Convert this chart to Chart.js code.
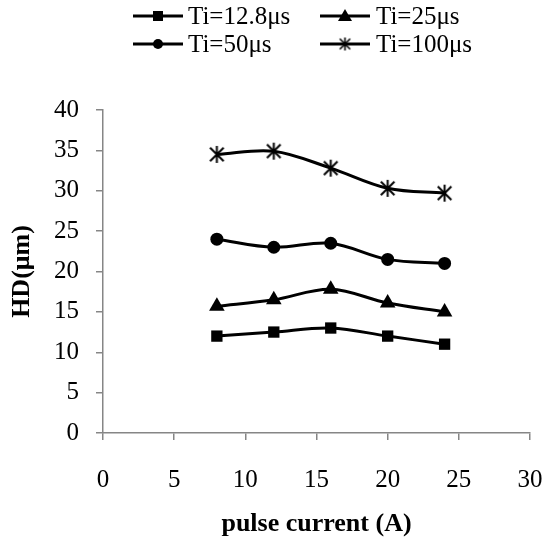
<!DOCTYPE html>
<html>
<head>
<meta charset="utf-8">
<script src="https://cdn.jsdelivr.net/npm/chart.js@4.4.1/dist/chart.umd.min.js"></script>
<style>
  html, body { margin: 0; padding: 0; background: #fff; }
  #wrap { width: 546px; height: 537px; }
</style>
</head>
<body>
<div id="wrap"><canvas id="chart" width="546" height="537"></canvas></div>
<script>
// pulse current (A) vs HD (µm), one series per pulse-on time
const currents = [8, 12, 16, 20, 24];
const seriesNames = ['Ti=12.8μs', 'Ti=25μs', 'Ti=50μs', 'Ti=100μs'];
const hdTi128 = [12.0, 12.5, 13.0, 12.0, 11.0];
const hdTi25 = [15.7, 16.5, 17.8, 16.1, 15.0];
const hdTi50 = [24.0, 23.0, 23.5, 21.5, 21.0];
const hdTi100 = [34.5, 34.9, 32.8, 30.3, 29.7];

const FONT = "'Liberation Serif', 'Times New Roman', serif";
const AXIS_GREY = '#868686';

// asterisk marker (X plus vertical bar) as a small canvas
function makeStar(size, lw) {
    const c = document.createElement('canvas');
    c.width = size;
    c.height = size;
    const g = c.getContext('2d');
    const m = size / 2, r = size / 2 - 1;
    g.strokeStyle = '#000';
    g.lineWidth = lw;
    g.beginPath();
    g.moveTo(m - r * 0.8, m - r * 0.8); g.lineTo(m + r * 0.8, m + r * 0.8);
    g.moveTo(m + r * 0.8, m - r * 0.8); g.lineTo(m - r * 0.8, m + r * 0.8);
    g.moveTo(m, m - r); g.lineTo(m, m + r);
    g.stroke();
    return c;
}

const starBig = makeStar(19, 2);
const starSmall = makeStar(15, 1.6);

const toPoints = vals => vals.map((v, i) => ({ x: currents[i], y: v }));

function series(label, vals, style, radius) {
    return {
        label,
        data: toPoints(vals),
        borderColor: '#000',
        backgroundColor: '#000',
        borderWidth: 3,
        tension: 0.35,
        pointStyle: style,
        pointRadius: radius,
        pointHoverRadius: radius,
        pointBorderWidth: 0
    };
}

// legend drawn by hand: line through marker, 2 columns x 2 rows
const legendSlots = [
    { x1: 133, x2: 183, tx: 188, y: 16, mark: 'rect' },
    { x1: 320, x2: 370, tx: 376, y: 16, mark: 'triangle' },
    { x1: 133, x2: 183, tx: 188, y: 44, mark: 'circle' },
    { x1: 320, x2: 370, tx: 376, y: 44, mark: 'star' }
];

const lineLegend = {
    id: 'lineLegend',
    afterDraw(chart) {
        const ctx = chart.ctx;
        ctx.save();
        legendSlots.forEach((s, i) => {
            ctx.strokeStyle = '#000';
            ctx.lineWidth = 3;
            ctx.beginPath();
            ctx.moveTo(s.x1, s.y);
            ctx.lineTo(s.x2, s.y);
            ctx.stroke();
            const cx = (s.x1 + s.x2) / 2;
            ctx.fillStyle = '#000';
            if (s.mark === 'rect') {
                ctx.fillRect(cx - 5, s.y - 5, 10, 10);
            } else if (s.mark === 'circle') {
                ctx.beginPath();
                ctx.arc(cx, s.y, 5, 0, Math.PI * 2);
                ctx.fill();
            } else if (s.mark === 'triangle') {
                ctx.beginPath();
                ctx.moveTo(cx, s.y - 7);
                ctx.lineTo(cx + 7, s.y + 5);
                ctx.lineTo(cx - 7, s.y + 5);
                ctx.closePath();
                ctx.fill();
            } else {
                ctx.drawImage(starSmall, cx - starSmall.width / 2, s.y - starSmall.height / 2);
            }
            ctx.font = '25px ' + FONT;
            ctx.textBaseline = 'middle';
            ctx.textAlign = 'left';
            ctx.fillText(seriesNames[i], s.tx, s.y + 1);
        });
        ctx.restore();
    }
};

new Chart(document.getElementById('chart'), {
    type: 'line',
    data: {
        datasets: [
            series(seriesNames[0], hdTi128, 'rect', 8),
            series(seriesNames[1], hdTi25, 'triangle', 9),
            series(seriesNames[2], hdTi50, 'circle', 6.5),
            series(seriesNames[3], hdTi100, starBig, 9)
        ]
    },
    options: {
        responsive: false,
        animation: false,
        events: [],
        layout: { padding: { left: 0, right: 16, top: 110, bottom: 0 } },
        plugins: {
            legend: { display: false },
            tooltip: { enabled: false }
        },
        scales: {
            x: {
                type: 'linear',
                min: 0,
                max: 30,
                afterFit: s => { s.height = 104; s.paddingLeft = 0; s.paddingRight = 0; },
                ticks: { stepSize: 5, color: '#000', padding: 25, font: { family: FONT, size: 25 } },
                grid: { drawOnChartArea: false, tickLength: 7, color: AXIS_GREY, lineWidth: 1.5 },
                border: { color: AXIS_GREY, width: 1.5 },
                title: {
                    display: true,
                    text: 'pulse current (A)',
                    color: '#000',
                    padding: { top: 0, bottom: -3 },
                    font: { family: FONT, size: 26, weight: 'bold' }
                }
            },
            y: {
                min: 0,
                max: 40,
                afterFit: s => { s.width = 103; s.paddingTop = 0; s.paddingBottom = 0; },
                ticks: { stepSize: 5, color: '#000', padding: 17, font: { family: FONT, size: 25 } },
                grid: { drawOnChartArea: false, tickLength: 7, color: AXIS_GREY, lineWidth: 1.5 },
                border: { color: AXIS_GREY, width: 1.5 },
                title: {
                    display: true,
                    text: 'HD(μm)',
                    color: '#000',
                    padding: { top: 7, bottom: 0 },
                    font: { family: FONT, size: 26, weight: 'bold' }
                }
            }
        }
    },
    plugins: [lineLegend]
});
</script>
</body>
</html>
